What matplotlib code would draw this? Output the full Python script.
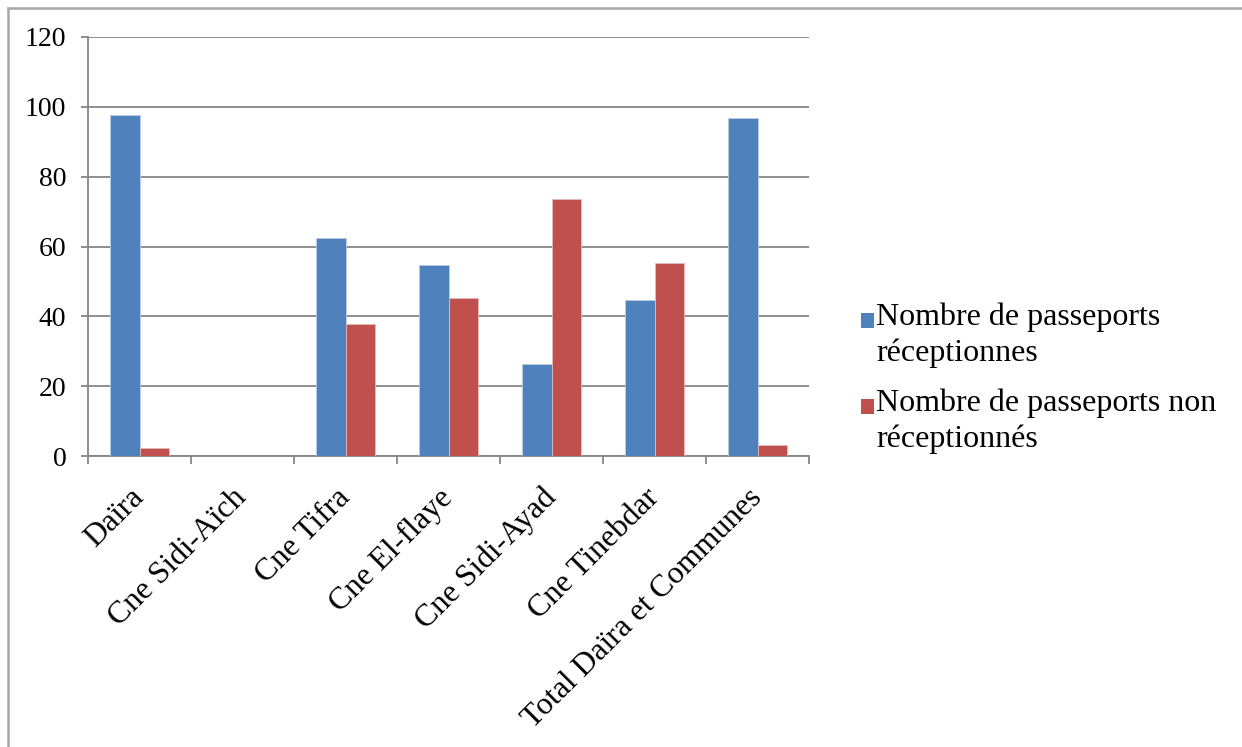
import matplotlib
matplotlib.use("Agg")
import matplotlib.pyplot as plt
from matplotlib.lines import Line2D
from matplotlib.patches import Rectangle
from matplotlib.transforms import ScaledTranslation
import numpy as np

categories = ["Daïra", "Cne Sidi-Aïch", "Cne Tifra", "Cne El-flaye",
              "Cne Sidi-Ayad", "Cne Tinebdar", "Total Daïra et Communes"]
series_names = ["Nombre de passeports\nréceptionnes",
                "Nombre de passeports non\nréceptionnés"]
series_colors = ["#4F81BD", "#C0504D"]
recus = [97.7, 0, 62.3, 54.7, 26.4, 44.7, 96.8]
non_recus = [2.3, 0, 37.7, 45.3, 73.6, 55.3, 3.2]
yticks = [0, 20, 40, 60, 80, 100, 120]

plt.rcParams["font.family"] = ["Liberation Serif", "DejaVu Serif"]
FS_X = 22.8
FS_Y = 20
FS_LEG = 23
GRID = "#868686"

W, H = 1242, 747
fig = plt.figure(figsize=(W / 100, H / 100), dpi=100)
fig.patch.set_facecolor("white")

# chart area frame (left and top edges)
fig.add_artist(Line2D([8 / W, 8 / W], [0, 1 - 8 / H], transform=fig.transFigure,
                      color="#a8a8a8", linewidth=1.8))
fig.add_artist(Line2D([8 / W, 1], [1 - 8 / H, 1 - 8 / H], transform=fig.transFigure,
                      color="#a8a8a8", linewidth=1.8))

ax = fig.add_axes([88 / W, 1 - 456 / H, (809 - 88) / W, (456 - 37) / H])

x = np.arange(len(categories))
w = 0.286
ax.bar(x - w / 2, recus, w, color=series_colors[0], edgecolor="#B9CDE5",
       linewidth=0.6, label=series_names[0], zorder=3)
ax.bar(x + w / 2, non_recus, w, color=series_colors[1], edgecolor="#E6B9B8",
       linewidth=0.6, label=series_names[1], zorder=3)

ax.set_xlim(-0.5, len(categories) - 0.5)
ax.set_ylim(0, 120)
ax.set_yticks(yticks)
ax.set_yticklabels([str(v) for v in yticks], fontsize=FS_Y)
ax.yaxis.grid(True, color=GRID, linewidth=1.3, zorder=0)
ax.set_axisbelow(True)

# category boundaries carry the x tick marks
ax.set_xticks(np.arange(len(categories) + 1) - 0.5)
ax.set_xticklabels([])
ax.set_xticks(x, minor=True)
ax.set_xticklabels(categories, minor=True, rotation=45, ha="right",
                   va="center", rotation_mode="anchor", fontsize=FS_X)
shift = ScaledTranslation(3 / 100, 0, fig.dpi_scale_trans)
for lbl in ax.get_xticklabels(minor=True):
    lbl.set_transform(lbl.get_transform() + shift)
ax.tick_params(axis="x", which="minor", length=0, pad=27)
ax.tick_params(axis="x", which="major", length=5.5, width=1.3, color=GRID,
               direction="out")
ax.tick_params(axis="y", length=5, width=1.3, color=GRID, direction="out",
               pad=10.5)

for side in ["top", "right"]:
    ax.spines[side].set_visible(False)
for side in ["left", "bottom"]:
    ax.spines[side].set_color(GRID)
    ax.spines[side].set_linewidth(1.3)

# legend: colour key beside the first line of each label
entry_tops = [320, 406]
for name, color, yc in zip(series_names, series_colors, entry_tops):
    fig.add_artist(Rectangle((861 / W, 1 - (yc + 8) / H), 13 / W, 15 / H,
                             transform=fig.transFigure, facecolor=color,
                             edgecolor="none"))
    fig.text(876 / W, 1 - (yc - 17) / H, name, fontsize=FS_LEG, ha="left",
             va="top", linespacing=1.28)

fig.savefig("out.png", dpi=100, facecolor="white")
